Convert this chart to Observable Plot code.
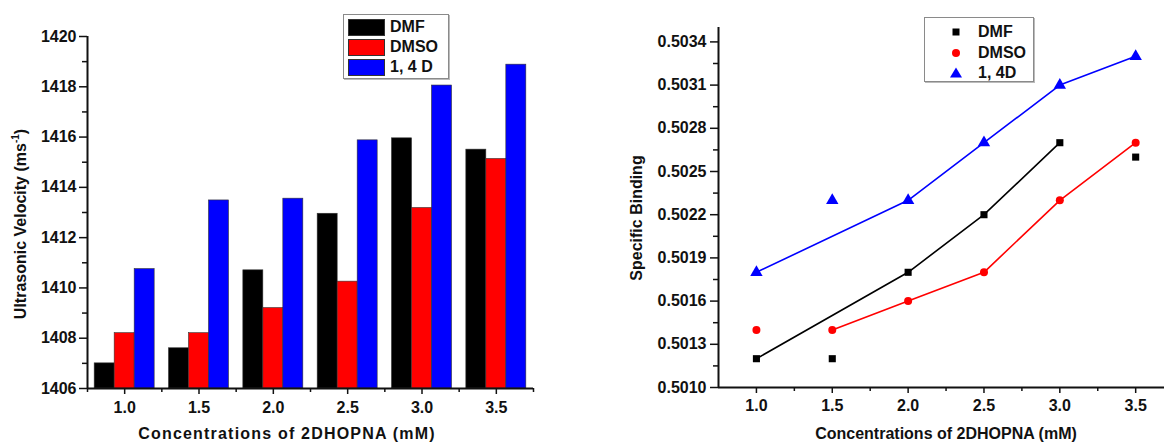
<!DOCTYPE html>
<html><head><meta charset="utf-8">
<script src="https://cdn.jsdelivr.net/npm/d3@7"></script>
<script src="https://cdn.jsdelivr.net/npm/@observablehq/plot@0.6"></script>
<style>
body{margin:0;background:#fff;}
#wrap{position:relative;width:1164px;height:443px;overflow:hidden;font-family:"Liberation Sans",Arial,sans-serif;font-weight:bold;color:#111;background:#fff;}
#left,#right{position:absolute;top:0;}
#left{left:0;} #right{left:580px;}
.ytitle{position:absolute;white-space:nowrap;font-size:16px;transform:translate(-50%,-50%) rotate(-90deg);}
.xtitle{position:absolute;white-space:nowrap;font-size:16px;transform:translate(-50%,0);}
.legend{position:absolute;border:1px solid #8a8a8a;box-shadow:1px 1px 0 #bbb;background:#fff;}
.row{position:absolute;left:0;height:20px;white-space:nowrap;font-size:16px;}
.sw{position:absolute;border:0.5px solid #333;box-sizing:border-box;}
.lab{position:absolute;line-height:20px;top:0;}
sup{font-size:10px;}
</style></head>
<body><div id="wrap">
<div id="left"></div>
<div id="right"></div>
</div>
<script>
// ---------- data ----------
const concentrations = [1.0, 1.5, 2.0, 2.5, 3.0, 3.5];
const concMinor = [0.75, 1.25, 1.75, 2.25, 2.75, 3.25, 3.75];

// Left chart: ultrasonic velocity (m/s)
const velSeries = ["DMF", "DMSO", "1, 4 D"];
const velDMF  = [1407.0, 1407.6, 1410.7, 1412.95, 1415.95, 1415.5];
const velDMSO = [1408.2, 1408.2, 1409.2, 1410.25, 1413.18, 1415.13];
const vel14D  = [1410.75, 1413.48, 1413.55, 1415.87, 1418.05, 1418.88];
const velTicks = [1406, 1408, 1410, 1412, 1414, 1416, 1418, 1420];
const velMinor = [1407, 1409, 1411, 1413, 1415, 1417, 1419];

// Right chart: specific binding
const bindSeries = ["DMF", "DMSO", "1, 4D"];
const bindDMF  = [0.5012, 0.5012, 0.5018, 0.5022, 0.5027, 0.5026];
const bindDMSO = [0.5014, 0.5014, 0.5016, 0.5018, 0.5023, 0.5027];
const bind14D  = [0.5018, 0.5023, 0.5023, 0.5027, 0.5031, 0.5033];
// which points are joined by the drawn line
const lineDMF  = [true, false, true, true, true, false];
const lineDMSO = [false, true, true, true, true, true];
const line14D  = [true, false, true, true, true, true];
const bindTicks = [0.5010, 0.5013, 0.5016, 0.5019, 0.5022, 0.5025, 0.5028, 0.5031, 0.5034];
const bindMinor = [0.50115, 0.50145, 0.50175, 0.50205, 0.50235, 0.50265, 0.50295, 0.50325];

const seriesColors = ["#000000", "#ff0000", "#0000ff"];
const symbols = ["square", "circle", "triangle"];

const xTitle = "Concentrations of 2DHOPNA (mM)";

// ---------- left chart ----------
const velValues = [velDMF, velDMSO, vel14D];
const velRows = [];
velSeries.forEach((s, i) => velValues[i].forEach((v, j) => velRows.push({c: concentrations[j], s, i, v})));
const barW = 0.1345; // bar width in concentration units

const font = {fontFamily: "'Liberation Sans', Arial, sans-serif", fontSize: "16px", fontWeight: "bold", color: "#111", background: "transparent", overflow: "visible"};

const left = Plot.plot({
  width: 580, height: 443,
  marginLeft: 87, marginRight: 47, marginTop: 36, marginBottom: 55,
  x: {domain: [0.75, 3.75]},
  y: {domain: [1406, 1420]},
  color: {domain: velSeries, range: seriesColors},
  style: font,
  marks: [
    Plot.rect(velRows, {
      x1: d => d.c + (d.i - 1.5) * barW,
      x2: d => d.c + (d.i - 0.5) * barW,
      y1: 1406, y2: "v", fill: "s", stroke: "#333", strokeWidth: 0.6
    }),
    Plot.ruleY([1406], {stroke: "#111", strokeWidth: 2}),
    Plot.ruleX([0.75], {stroke: "#111", strokeWidth: 2}),
    Plot.axisY({ticks: velTicks, tickSize: 8, tickPadding: 3, tickFormat: "d", label: null, strokeWidth: 1.5}),
    Plot.axisY({ticks: velMinor, tickSize: 5, tickFormat: () => "", label: null, strokeWidth: 1.5}),
    Plot.axisX({ticks: concentrations, tickSize: 6, tickPadding: 7, tickFormat: d => d.toFixed(1), label: null, strokeWidth: 1.5}),
    Plot.axisX({ticks: concMinor, tickSize: 4, tickFormat: () => "", label: null, strokeWidth: 1.5})
  ]
});
document.getElementById("left").appendChild(left);

// ---------- right chart ----------
const bindValues = [bindDMF, bindDMSO, bind14D];
const lineFlags = [lineDMF, lineDMSO, line14D];
const bindRows = [];
bindSeries.forEach((s, i) => bindValues[i].forEach((v, j) => bindRows.push({c: concentrations[j], s, i, v, onLine: lineFlags[i][j]})));

const right = Plot.plot({
  width: 584, height: 443,
  marginLeft: 138, marginRight: 0, marginTop: 27, marginBottom: 56,
  x: {domain: [0.75, 3.69]},
  y: {domain: [0.5010, 0.5035]},
  color: {domain: bindSeries, range: seriesColors},
  symbol: {domain: bindSeries, range: symbols},
  style: font,
  marks: [
    Plot.ruleY([0.5010], {stroke: "#111", strokeWidth: 2}),
    Plot.ruleX([0.75], {stroke: "#111", strokeWidth: 2}),
    Plot.axisY({ticks: bindTicks, tickSize: 8, tickPadding: 4, tickFormat: d3.format(".4f"), label: null, strokeWidth: 1.5}),
    Plot.axisY({ticks: bindMinor, tickSize: 5, tickFormat: () => "", label: null, strokeWidth: 1.5}),
    Plot.axisX({ticks: concentrations, tickSize: 6, tickPadding: 6, tickFormat: d => d.toFixed(1), label: null, strokeWidth: 1.5}),
    Plot.axisX({ticks: concMinor.filter(c => c > 0.75 && c < 3.69), tickSize: 4, tickFormat: () => "", label: null, strokeWidth: 1.5}),
    Plot.line(bindRows.filter(d => d.onLine), {x: "c", y: "v", z: "s", stroke: "s", strokeWidth: 1.6}),
    Plot.dot(bindRows.filter(d => d.i === 0), {x: "c", y: "v", symbol: "s", fill: "s", r: 4}),
    Plot.dot(bindRows.filter(d => d.i === 1), {x: "c", y: "v", symbol: "s", fill: "s", r: 4}),
    Plot.dot(bindRows.filter(d => d.i === 2), {x: "c", y: "v", symbol: "s", fill: "s", r: 4.6})
  ]
});
document.getElementById("right").appendChild(right);

// ---------- titles ----------
const wrap = document.getElementById("wrap");
function addDiv(cls, html, styles) {
  const d = document.createElement("div");
  d.className = cls; d.innerHTML = html;
  Object.assign(d.style, styles);
  wrap.appendChild(d);
  return d;
}
addDiv("ytitle", "Ultrasonic Velocity (ms<sup>-1</sup>)", {left: "20px", top: "224px"});
addDiv("ytitle", "Specific Binding", {left: "637px", top: "218px"});
addDiv("xtitle", xTitle, {left: "287px", top: "425px", letterSpacing: "1.2px"});
addDiv("xtitle", xTitle, {left: "946px", top: "425px"});

// ---------- legends ----------
const lg1 = addDiv("legend", "", {left: "343px", top: "14px", width: "104px", height: "63px"});
velSeries.forEach((s, i) => {
  const r = document.createElement("div");
  r.className = "row"; r.style.top = (2 + i * 20) + "px"; r.style.width = "100%";
  r.innerHTML = `<div class="sw" style="left:4px;top:2px;width:37px;height:17px;background:${seriesColors[i]}"></div><div class="lab" style="left:46px">${s}</div>`;
  lg1.appendChild(r);
});
const lg2 = addDiv("legend", "", {left: "924px", top: "17px", width: "108px", height: "63px"});
const symPaths = {
  square: '<rect x="-3.5" y="-3.5" width="7" height="7"/>',
  circle: '<circle r="4"/>',
  triangle: '<path d="M0,-5.5L6,4.5L-6,4.5Z"/>'
};
bindSeries.forEach((s, i) => {
  const r = document.createElement("div");
  r.className = "row"; r.style.top = (4 + i * 20.5) + "px"; r.style.width = "100%";
  r.innerHTML = `<svg style="position:absolute;left:23px;top:2px" width="16" height="16" viewBox="-8 -8 16 16"><g fill="${seriesColors[i]}">${symPaths[symbols[i]]}</g></svg><div class="lab" style="left:53px">${s}</div>`;
  lg2.appendChild(r);
});
</script>
</body></html>
